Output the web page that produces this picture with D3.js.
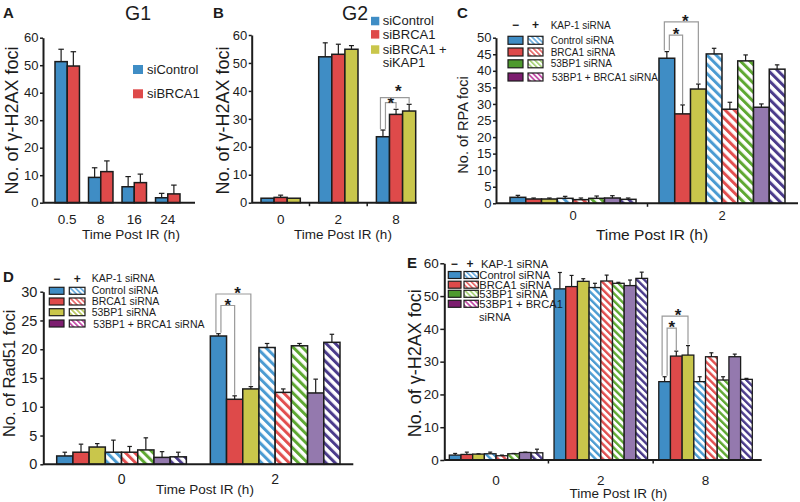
<!DOCTYPE html>
<html><head><meta charset="utf-8">
<script src="https://cdn.jsdelivr.net/npm/d3@7"></script>
<style>body{margin:0;background:#fff}svg{display:block}</style>
</head><body><svg id="c" width="800" height="502"></svg>
<script>
// ================= DATA =================
// Panel A (G1)
const aTimes = ["0.5", "8", "16", "24"];
const aSeries = ["siControl", "siBRCA1"];
const aControlMean = [51.3, 9.2, 5.8, 1.8];
const aControlSD   = [4.5, 3.5, 3.7, 1.6];
const aBRCA1Mean   = [49.7, 11.3, 7.3, 3.2];
const aBRCA1SD     = [5.2, 3.9, 3.1, 3.2];
const aYTicks = [0, 10, 20, 30, 40, 50, 60];

// Panel B (G2)
const bTimes = ["0", "2", "8"];
const bSeries = ["siControl", "siBRCA1", "siBRCA1 +", "siKAP1"];
const bControlMean = [1.6, 52.2, 23.6];
const bControlSD   = [0, 5.0, 2.4];
const bBRCA1Mean   = [1.9, 53.1, 31.6];
const bBRCA1SD     = [0.8, 3.6, 1.8];
const bKAP1Mean    = [1.6, 54.9, 32.8];
const bKAP1SD      = [0, 1.3, 2.4];
const bYTicks = [0, 10, 20, 30, 40, 50, 60];
const bBrackets = [["8", 0, 1, 35.8], ["8", 0, 2, 37.6]];

// KAP-1 legends (C, D, E)
const kapHeader = "KAP-1 siRNA";
const kapConditions = ["Control siRNA", "BRCA1 siRNA", "53BP1 siRNA", "53BP1 + BRCA1 siRNA"];
const eConditions = ["Control siRNA", "BRCA1 siRNA", "53BP1 siRNA", "53BP1 + BRCA1", "siRNA"];
// bar order inside each time group:
// Control-, BRCA1-, 53BP1-, Control+, BRCA1+, 53BP1+, 53BP1+BRCA1-, 53BP1+BRCA1+

// Panel C (RPA foci)
const cTimes = ["0", "2"];
const cMean0 = [1.8, 1.3, 1.3, 1.5, 1.1, 1.5, 1.6, 1.2];
const cSD0   = [0.6, 0.3, 0.3, 0.6, 0.5, 0.7, 0.7, 0.4];
const cMean2 = [43.8, 27.0, 34.5, 45.1, 28.4, 43.0, 29.0, 40.5];
const cSD2   = [2.0, 2.7, 1.5, 1.7, 2.1, 1.8, 1.0, 1.3];
const cYTicks = [0, 5, 10, 15, 20, 25, 30, 35, 40, 45, 50];
const cBrackets = [["2", 0, 1, 50.8], ["2", 0, 2, 54.8]];

// Panel D (Rad51 foci)
const dTimes = ["0", "2"];
const dMean0 = [1.45, 2.1, 3.0, 2.1, 2.1, 2.5, 1.2, 1.3];
const dSD0   = [0.65, 1.4, 0.6, 2.1, 1.0, 2.1, 1.0, 0.8];
const dMean2 = [22.3, 11.3, 13.1, 20.3, 12.5, 20.6, 12.4, 21.2];
const dSD2   = [0.4, 0.6, 0.4, 0.7, 0.6, 0.4, 2.4, 1.4];
const dYTicks = [0, 5, 10, 15, 20, 25, 30];
const dBrackets = [["2", 0, 1, 27.6], ["2", 0, 2, 29.6]];

// Panel E (γ-H2AX foci)
const eTimes = ["0", "2", "8"];
const eMean0 = [1.5, 1.7, 1.8, 1.9, 1.3, 1.9, 2.3, 2.2];
const eSD0   = [0.5, 0.7, 0.1, 0.5, 0.2, 0.1, 0.1, 1.1];
const eMean2 = [52.2, 52.9, 54.5, 52.6, 54.6, 53.9, 53.2, 55.4];
const eSD2   = [5.0, 3.4, 0.8, 1.3, 1.8, 0.3, 1.7, 1.9];
const eMean8 = [23.9, 31.7, 32.0, 23.9, 31.5, 24.4, 31.5, 24.6];
const eSD8   = [1.5, 1.5, 2.9, 1.5, 1.2, 1.0, 0.8, 0.3];
const eYTicks = [0, 10, 20, 30, 40, 50, 60];
const eBrackets = [["8", 0, 1, 40.2], ["8", 0, 2, 43.9]];

// ================= DRAWING =================
const FONT = "'Liberation Sans', Arial, Helvetica, sans-serif";
const INK = "#1c1c1c";
const COL = {blue:"#3f8dc5", red:"#de4a4a", yellow:"#c9c64b", purple:"#9479ae",
  hBlue:"#4b9bd2", hRed:"#e24f4f", hGreen:"#5ea832", hPurple:"#4b3b8b",
  lGreen:"#4e9a2e", lMagenta:"#7c1d6f", lhBlue:"#69ade0", lhRed:"#e86a6a",
  lhGreen:"#a9d47a", lhYellow:"#b9c95c", lhMagenta:"#c24aa6"};

const svg = d3.select("#c");
const defs = svg.append("defs");
function hatch(id, color, period, stripe) {
  const p = defs.append("pattern").attr("id", id).attr("patternUnits", "userSpaceOnUse")
    .attr("width", period).attr("height", period).attr("patternTransform", "rotate(-45)");
  p.append("rect").attr("width", period).attr("height", period).attr("fill", "#fff");
  p.append("rect").attr("width", stripe).attr("height", period).attr("fill", color);
  return `url(#${id})`;
}
const H = {
  blue: hatch("hb", COL.hBlue, 6.5, 3), red: hatch("hr", COL.hRed, 6.5, 3),
  green: hatch("hg", COL.hGreen, 6.5, 3), purple: hatch("hp", COL.hPurple, 6.5, 3),
  eblue: hatch("ehb", COL.hBlue, 5.2, 2.4), ered: hatch("ehr", COL.hRed, 5.2, 2.4),
  egreen: hatch("ehg", COL.hGreen, 5.2, 2.4), epurple: hatch("ehp", COL.hPurple, 5.2, 2.4),
  lblue: hatch("lhb", COL.lhBlue, 3.6, 1.7), lred: hatch("lhr", COL.lhRed, 3.6, 1.7),
  lgreen: hatch("lhg", COL.lhGreen, 3.6, 1.7), lyellow: hatch("lhy", COL.lhYellow, 3.6, 1.7),
  lmagenta: hatch("lhm", COL.lhMagenta, 3.6, 1.7)
};
const kapFills = [COL.blue, COL.red, COL.yellow, H.blue, H.red, H.green, COL.purple, H.purple];
const kapFillsE = [COL.blue, COL.red, COL.yellow, H.eblue, H.ered, H.egreen, COL.purple, H.epurple];

function txt(g, x, y, s, size, o = {}) {
  return g.append("text").attr("x", x).attr("y", y).attr("font-size", size)
    .attr("font-family", FONT).attr("text-anchor", o.anchor || "start")
    .attr("font-weight", o.weight || "normal").attr("fill", o.fill || INK).text(s);
}
function vtxt(g, cx, cy, s, size) {
  return g.append("text").attr("transform", `translate(${cx},${cy}) rotate(-90)`)
    .attr("dy", "0.35em").attr("text-anchor", "middle").attr("font-size", size)
    .attr("font-family", FONT).attr("fill", INK).text(s);
}

function barPanel(o) {
  const g = svg.append("g");
  const y = d3.scaleLinear().domain(o.yDomain).range(o.yRange);
  const x = d3.scaleBand().domain(o.groups).range(o.bandRange).paddingInner(o.pInner).paddingOuter(0);
  const xi = d3.scaleBand().domain(d3.range(o.nBars)).range([0, x.bandwidth()]);
  const bw = xi.bandwidth();
  o.groups.forEach((grp, gi) => {
    const rows = o.values[gi].map((v, i) => ({v, e: o.errs[gi][i], i}));
    const gg = g.append("g").attr("transform", `translate(${x(grp)},0)`);
    gg.selectAll("rect").data(rows).join("rect")
      .attr("x", d => xi(d.i)).attr("y", d => y(d.v)).attr("width", bw)
      .attr("height", d => y(0) - y(d.v)).attr("fill", d => o.fills[d.i])
      .attr("stroke", INK).attr("stroke-width", o.barStroke);
    const er = rows.filter(d => d.e > 0);
    gg.selectAll("line.s").data(er).join("line").attr("class", "s")
      .attr("x1", d => xi(d.i) + bw / 2).attr("x2", d => xi(d.i) + bw / 2)
      .attr("y1", d => y(d.v)).attr("y2", d => y(d.v + d.e))
      .attr("stroke", INK).attr("stroke-width", 1.2);
    gg.selectAll("line.c").data(er).join("line").attr("class", "c")
      .attr("x1", d => xi(d.i) + bw / 2 - o.capW / 2).attr("x2", d => xi(d.i) + bw / 2 + o.capW / 2)
      .attr("y1", d => y(d.v + d.e)).attr("y2", d => y(d.v + d.e))
      .attr("stroke", INK).attr("stroke-width", 1.2);
  });
  const ya = g.append("g").attr("transform", `translate(${o.axisX},0)`)
    .call(d3.axisLeft(y).tickValues(o.yTicks).tickSize(o.yTickSize || 3).tickSizeOuter(0).tickPadding(o.yPad || 1.5));
  ya.select(".domain").attr("stroke", INK).attr("stroke-width", 2);
  ya.selectAll(".tick line").attr("stroke", INK).attr("stroke-width", 1.5);
  ya.selectAll(".tick text").attr("font-size", o.tickFont).attr("font-family", FONT).attr("fill", INK);
  g.append("line").attr("x1", o.axisX).attr("x2", o.axisXEnd).attr("y1", y(0)).attr("y2", y(0))
    .attr("stroke", INK).attr("stroke-width", 2);
  const xa = g.append("g").attr("transform", `translate(0,${y(0)})`)
    .call(d3.axisBottom(x).tickSize(0).tickPadding(o.xBase - y(0) - 0.71 * o.xFont));
  xa.select(".domain").remove();
  xa.selectAll("text").attr("font-size", o.xFont).attr("font-family", FONT).attr("fill", INK);
  if (o.bTicks) {
    const b = o.groups.slice(1).map(grp => x(grp) - x.step() * x.paddingInner() / 2);
    g.selectAll("line.bt").data(b).join("line").attr("class", "bt")
      .attr("x1", d => d).attr("x2", d => d).attr("y1", y(0)).attr("y2", y(0) + 3.5)
      .attr("stroke", INK).attr("stroke-width", 1.5);
  }
  return {g, x, xi, y, bw};
}

function brackets(p, list, values, errs, groups, outerGap = 4.5, innerGap = 4.5) {
  list.forEach((br) => {
    const [grp, from, to, level] = br;
    const gi = groups.indexOf(grp);
    const inner = (to === 1);
    const cx = i => p.x(grp) + p.xi(i) + p.bw / 2;
    const lx = cx(from) + (inner ? 2.5 : -2.5);
    const rx = cx(to);
    const top = p.y(level);
    const lb = p.y(values[gi][from] + errs[gi][from]) - 1;
    const rb = p.y(values[gi][to] + errs[gi][to]) - 1;
    p.g.append("path").attr("d", `M${lx},${lb}V${top}H${rx}V${rb}`)
      .attr("fill", "none").attr("stroke", "#9a9a9a").attr("stroke-width", 1.2);
    const sx = inner ? (lx + rx) / 2 : lx + 0.62 * (rx - lx);
    const gap = inner ? innerGap : outerGap;
    txt(p.g, sx, top - gap + 9.5, "*", 17, {anchor: "middle", weight: "bold"});
  });
}

function kapLegend(o) {
  const g = svg.append("g");
  txt(g, o.minusX, o.headY + o.signFs * 0.36, "−", o.signFs, {anchor: "middle", weight: "bold"});
  txt(g, o.plusX, o.headY + o.signFs * 0.36, "+", o.signFs, {anchor: "middle", weight: "bold"});
  txt(g, o.headTextX, o.headY + o.fs * 0.35, kapHeader, o.fs);
  o.rows.forEach((ry, i) => {
    g.append("rect").attr("x", o.x1).attr("y", ry - o.h / 2).attr("width", o.w1).attr("height", o.h)
      .attr("fill", o.solid[i]).attr("stroke", INK).attr("stroke-width", 1.2);
    g.append("rect").attr("x", o.x2).attr("y", ry - o.h / 2).attr("width", o.w2).attr("height", o.h)
      .attr("fill", o.hatched[i]).attr("stroke", INK).attr("stroke-width", 1.2);
  });
  o.labels.forEach((s, i) => txt(g, o.textX[i], o.labelYs[i] + o.fs * 0.35, s, o.fs));
}

// ---------- Panel A ----------
{
  const pA = barPanel({groups: aTimes, nBars: 2,
    values: aTimes.map((t, i) => [aControlMean[i], aBRCA1Mean[i]]),
    errs: aTimes.map((t, i) => [aControlSD[i], aBRCA1SD[i]]),
    fills: [COL.blue, COL.red], yDomain: [0, 60], yRange: [202.7, 37.7], yTicks: aYTicks,
    axisX: 43, axisXEnd: 195, bandRange: [55, 180], pInner: 0.27, tickFont: 13,
    xBase: 224.5, xFont: 13.5, barStroke: 1.5, capW: 5.5, bTicks: false});
  txt(pA.g, 3, 18, "A", 15, {weight: "bold"});
  txt(pA.g, 138, 20, "G1", 19.5, {anchor: "middle"});
  vtxt(pA.g, 12, 120.5, "No. of γ-H2AX foci", 18);
  txt(pA.g, 131, 238.5, "Time Post IR (h)", 13.5, {anchor: "middle"});
  [COL.blue, COL.red].forEach((c, i) => {
    pA.g.append("rect").attr("x", 133).attr("y", 65 + i * 24.3).attr("width", 10).attr("height", 9).attr("fill", c);
    txt(pA.g, 147, 74 + i * 24.3, aSeries[i], 13);
  });
}

// ---------- Panel B ----------
{
  const vals = bTimes.map((t, i) => [bControlMean[i], bBRCA1Mean[i], bKAP1Mean[i]]);
  const errs = bTimes.map((t, i) => [bControlSD[i], bBRCA1SD[i], bKAP1SD[i]]);
  const pB = barPanel({groups: bTimes, nBars: 3, values: vals, errs: errs,
    fills: [COL.blue, COL.red, COL.yellow], yDomain: [0, 60], yRange: [202.7, 35], yTicks: bYTicks,
    axisX: 251.7, axisXEnd: 416.7, bandRange: [261, 415.7], pInner: 0.319, tickFont: 13,
    xBase: 224.5, xFont: 13.5, barStroke: 1.5, capW: 5, bTicks: true});
  brackets(pB, bBrackets, vals, errs, bTimes, 10, 3.5);
  txt(pB.g, 213, 18, "B", 15, {weight: "bold"});
  txt(pB.g, 355, 20, "G2", 19.5, {anchor: "middle"});
  vtxt(pB.g, 223, 120.5, "No. of γ-H2AX foci", 18);
  txt(pB.g, 343, 238.5, "Time Post IR (h)", 13.5, {anchor: "middle"});
  const sq = [[COL.blue, 21], [COL.red, 34.3], [COL.yellow, 49.5]];
  sq.forEach(([c, cy]) => pB.g.append("rect").attr("x", 371).attr("y", cy - 4.2).attr("width", 8.3).attr("height", 8.5).attr("fill", c));
  [20.5, 34, 49.5, 62].forEach((cy, i) => txt(pB.g, 382.7, cy + 4.6, bSeries[i], 13));
}

// ---------- Panel C ----------
{
  const vals = [cMean0, cMean2], errs = [cSD0, cSD2];
  const pC = barPanel({groups: cTimes, nBars: 8, values: vals, errs: errs, fills: kapFills,
    yDomain: [0, 50], yRange: [203.3, 37.7], yTicks: cYTicks, axisX: 496, axisXEnd: 798,
    bandRange: [510, 785], pInner: 0.154, tickFont: 13, xBase: 219.8, xFont: 13,
    barStroke: 1.5, capW: 4.5, bTicks: true});
  brackets(pC, cBrackets, vals, errs, cTimes);
  txt(pC.g, 457, 18, "C", 15, {weight: "bold"});
  vtxt(pC.g, 463, 125, "No. of RPA  foci", 14.5);
  txt(pC.g, 652, 239.5, "Time Post IR (h)", 15.5, {anchor: "middle"});
  kapLegend({minusX: 515.5, plusX: 535.5, headY: 25, headTextX: 550.7, signFs: 12, fs: 10,
    x1: 508, x2: 528, w1: 15, w2: 15, h: 8, rows: [40.3, 52, 63.8, 77],
    solid: [COL.blue, COL.red, COL.lGreen, COL.lMagenta], hatched: [H.lblue, H.lred, H.lgreen, H.lmagenta],
    labels: kapConditions, labelYs: [40.3, 52, 63.8, 77.3], textX: [550.7, 550.7, 550.7, 552]});
}

// ---------- Panel D ----------
{
  const vals = [dMean0, dMean2], errs = [dSD0, dSD2];
  const pD = barPanel({groups: dTimes, nBars: 8, values: vals, errs: errs, fills: kapFills,
    yDomain: [0, 30], yRange: [464.3, 291.7], yTicks: dYTicks, axisX: 43.3, axisXEnd: 353.3,
    bandRange: [56.7, 340], pInner: 0.156, tickFont: 14.5, xBase: 484.3, xFont: 14,
    barStroke: 1.5, capW: 4.5, bTicks: false, yPad: 3});
  brackets(pD, dBrackets, vals, errs, dTimes);
  txt(pD.g, 3, 282, "D", 15, {weight: "bold"});
  vtxt(pD.g, 9, 373.3, "No. of Rad51 foci", 16.5);
  txt(pD.g, 205, 494, "Time Post IR (h)", 13.5, {anchor: "middle"});
  kapLegend({minusX: 56.7, plusX: 77.3, headY: 278.3, headTextX: 91.7, signFs: 12, fs: 10.5,
    x1: 49.3, x2: 69.3, w1: 14.7, w2: 15.7, h: 7, rows: [290.8, 301.5, 312.2, 323.5],
    solid: [COL.blue, COL.red, COL.yellow, COL.lMagenta], hatched: [H.lblue, H.lred, H.lyellow, H.lmagenta],
    labels: kapConditions, labelYs: [290.8, 301.5, 312.2, 324], textX: [91.7, 91.7, 91.7, 93.3]});
}

// ---------- Panel E ----------
{
  const vals = [eMean0, eMean2, eMean8], errs = [eSD0, eSD2, eSD8];
  const pE = barPanel({groups: eTimes, nBars: 8, values: vals, errs: errs, fills: kapFillsE,
    yDomain: [0, 60], yRange: [460, 263.3], yTicks: eYTicks, axisX: 444.3, axisXEnd: 761.7,
    bandRange: [449.3, 752.3], pInner: 0.107, tickFont: 13.5, xBase: 485, xFont: 13.5,
    barStroke: 1.3, capW: 4, bTicks: true, yTickSize: 4});
  brackets(pE, eBrackets, vals, errs, eTimes);
  txt(pE.g, 407, 268, "E", 15, {weight: "bold"});
  vtxt(pE.g, 415, 363.3, "No. of γ-H2AX foci", 18);
  txt(pE.g, 618.3, 497.5, "Time Post IR (h)", 13.5, {anchor: "middle"});
  kapLegend({minusX: 454.3, plusX: 470, headY: 264, headTextX: 481, signFs: 12, fs: 11.2,
    x1: 448.3, x2: 464, w1: 12.7, w2: 14.3, h: 7, rows: [275, 284.7, 293.8, 303.8],
    solid: [COL.blue, COL.red, COL.lGreen, COL.lMagenta], hatched: [H.lblue, H.lred, H.lgreen, H.lmagenta],
    labels: eConditions, labelYs: [275, 284.7, 293.8, 303.8, 316.7], textX: [479.3, 479.3, 479.3, 479.3, 479]});
}
</script></body></html>
